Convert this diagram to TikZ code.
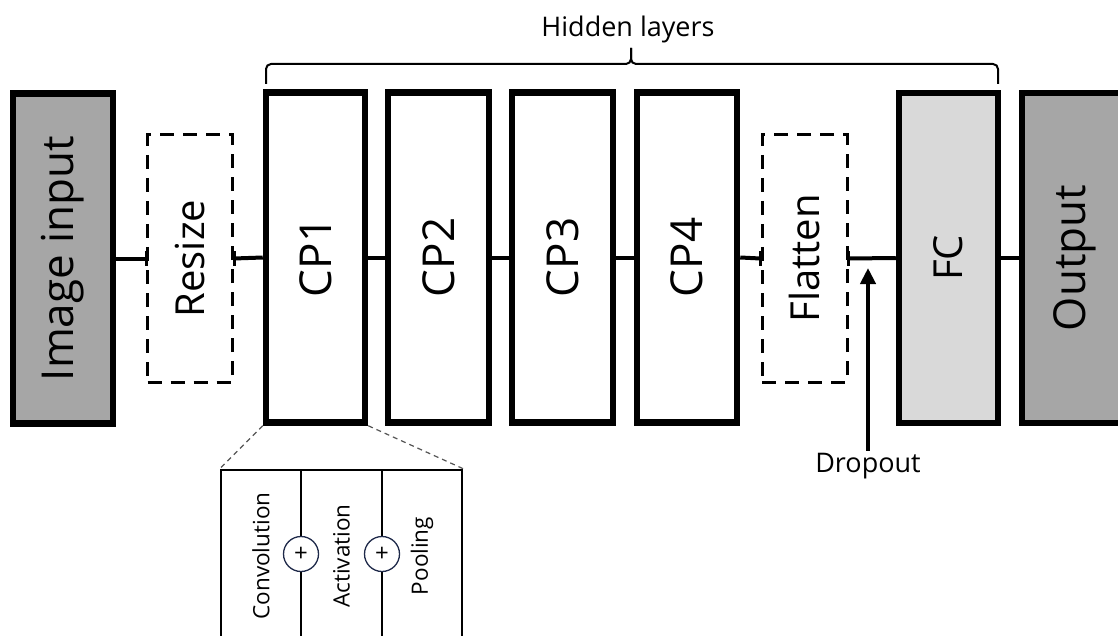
\documentclass[tikz,border=0pt]{standalone}
\usepackage{fontspec}
\setmainfont{Open Sans}
\usetikzlibrary{arrows.meta}
\definecolor{darkfill}{HTML}{A6A6A6}
\definecolor{lightfill}{HTML}{D9D9D9}
\definecolor{navy}{HTML}{1F2A4A}
\definecolor{zoomgray}{HTML}{555555}
\begin{document}
\begin{tikzpicture}[x=1pt,y=-1pt,
  blk/.style={draw=black, line width=6.5pt, inner sep=0pt, minimum height=330pt, minimum width=100pt},
  dblk/.style={draw=black, line width=3pt, dash pattern=on 14pt off 9pt, inner sep=0pt, minimum height=247pt, minimum width=85pt},
  conn/.style={line width=4pt},
  tick/.style={line width=3pt},
  bigtxt/.style={font=\fontsize{44}{50}\selectfont},
  midtxt/.style={font=\fontsize{40}{46}\selectfont},
  labtxt/.style={font=\fontsize{27}{32}\selectfont, inner sep=2pt},
  smalltxt/.style={font=\fontsize{22.5}{26}\selectfont, inner sep=0pt},
  plusnode/.style={circle, draw=navy, fill=white, line width=1.3pt, minimum size=35pt, inner sep=0pt, font=\fontsize{24}{26}\selectfont},
  zoomline/.style={draw=zoomgray, line width=1.2pt, dash pattern=on 5pt off 4pt},
  bracestyle/.style={line width=2pt, rounded corners=5pt},
  detline/.style={line width=2.5pt}
]
\clip (0,0) rectangle (1118,636);
\fill[white] (0,0) rectangle (1118,636);

% main row
\node[blk, fill=darkfill, bigtxt] (img) at (63,258.5) {\rotatebox{90}{Image input}};
\node[dblk, midtxt] (res) at (190,258.5) {\rotatebox{90}{Resize}};
\node[blk, bigtxt, minimum width=99pt] (cp1) at (315.5,257.5) {\rotatebox{90}{CP1}};
\node[blk, bigtxt, minimum width=101pt] (cp2) at (438.5,257.5) {\rotatebox{90}{CP2}};
\node[blk, bigtxt, minimum width=101pt] (cp3) at (562.5,257.5) {\rotatebox{90}{CP3}};
\node[blk, bigtxt, minimum width=100pt] (cp4) at (687,257.5) {\rotatebox{90}{CP4}};
\node[dblk, midtxt] (flat) at (804.5,258.5) {\rotatebox{90}{Flatten}};
\node[blk, fill=lightfill, midtxt, minimum width=99pt] (fc) at (948.5,258) {\rotatebox{90}{FC}};
\node[blk, fill=darkfill, bigtxt, minimum width=106pt] (out) at (1075,258) {\rotatebox{90}{Output}};

% connectors
\draw[conn] (img.east) -- (res.west);
\draw[conn] (res.east) -- (cp1.west);
\draw[conn] (cp1.east) -- (cp2.west);
\draw[conn] (cp2.east) -- (cp3.west);
\draw[conn] (cp3.east) -- (cp4.west);
\draw[conn] (cp4.east) -- (flat.west);
\draw[conn] (flat.east) -- (fc.west);
\draw[conn] (fc.east) -- (out.west);

% solid ticks where connectors meet dashed boxes
\draw[tick] ([yshift=-7pt]res.west) -- ([yshift=7pt]res.west);
\draw[tick] ([yshift=-7pt]res.east) -- ([yshift=7pt]res.east);
\draw[tick] ([yshift=-7pt]flat.west) -- ([yshift=7pt]flat.west);
\draw[tick] ([yshift=-7pt]flat.east) -- ([yshift=7pt]flat.east);

% hidden layers brace
\node[labtxt] (hid) at (628,29) {Hidden layers};
\coordinate (brL) at (266,84);
\coordinate (brR) at (998,84);
\coordinate (brT) at (631,48);
\draw[bracestyle] (brL) -- (266,64) -- (631,64) -- (brT);
\draw[bracestyle] (brR) -- (998,64) -- (631,64) -- (brT);

% dropout
\node[labtxt] (drop) at (868,466) {Dropout};
\coordinate (dropT) at (868,268);
\draw[line width=4pt, -{Triangle[length=16pt,width=15pt]}] (drop.north) -- (dropT);

% detail of CP1
\node[draw=black, line width=2.5pt, minimum width=241pt, minimum height=220pt, inner sep=0pt] (det) at (341.5,580) {};
\draw[detline] (301,470) -- (301,700);
\draw[detline] (382,470) -- (382,700);
\node[smalltxt] (conv) at (261,556) {\rotatebox{90}{Convolution}};
\node[smalltxt] (act) at (341.5,556) {\rotatebox{90}{Activation}};
\node[smalltxt] (pool) at (422,556) {\rotatebox{90}{Pooling}};
\node[plusnode] (p1) at (301,554) {+};
\node[plusnode] (p2) at (382,554) {+};
\draw[zoomline] (cp1.south west) -- (det.north west);
\draw[zoomline] (cp1.south east) -- (det.north east);
\end{tikzpicture}
\end{document}
